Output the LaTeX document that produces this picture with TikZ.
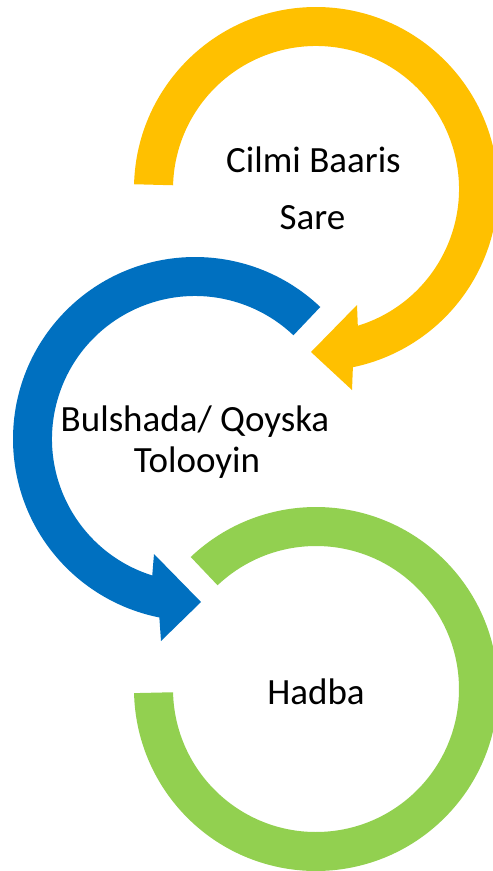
\documentclass[tikz,border=0pt]{standalone}
\usepackage{fontspec}
\setmainfont{Carlito}
\usetikzlibrary{calc}
\definecolor{ayellow}{HTML}{FFC000}
\definecolor{ablue}{HTML}{0070C0}
\definecolor{agreen}{HTML}{92D050}
\begin{document}
\begin{tikzpicture}[x=1pt,y=1pt,
  band/.style={draw=none},
  lbl/.style={anchor=base,inner sep=0pt,font=\fontsize{37}{41}\selectfont,text=black}]
\useasboundingbox (0,0) rectangle (493,-871);
\clip (0,0) rectangle (493,-871);
% yellow circular arrow
\coordinate (yc) at (316,-189);
\fill[ayellow,band] ($(yc)+(178.5:182)$) arc[start angle=178.5,end angle=-78.3,radius=182]
  -- (352,-390) -- (311,-352) -- (357,-305)
  -- ($(yc)+(-73:143)$) arc[start angle=-73,end angle=178.5,radius=143] -- cycle;
% blue circular arrow
\coordinate (bc) at (195,-439);
\fill[ablue,band] ($(bc)+(46.5:182)$) arc[start angle=46.5,end angle=258.7,radius=182]
  -- (161,-641) -- (201,-602) -- (154,-554)
  -- ($(bc)+(252.6:143)$) arc[start angle=252.6,end angle=46.5,radius=143] -- cycle;
% green arc
\coordinate (gc) at (316,-689);
\fill[agreen,band] ($(gc)+(133.5:182)$) arc[start angle=133.5,end angle=-178.7,radius=182]
  -- ($(gc)+(-178.7:143)$) arc[start angle=-178.7,end angle=133.5,radius=143] -- cycle;
% labels
\node[lbl] (t1) at (313.5,-172) {Cilmi Baaris};
\node[lbl] (t2) at (312.5,-229) {Sare};
\node[lbl] (t3) at (195,-431) {Bulshada/ Qoyska};
\node[lbl] (t4) at (197,-472) {Tolooyin};
\node[lbl] (t5) at (316,-704) {Hadba};
\end{tikzpicture}
\end{document}
